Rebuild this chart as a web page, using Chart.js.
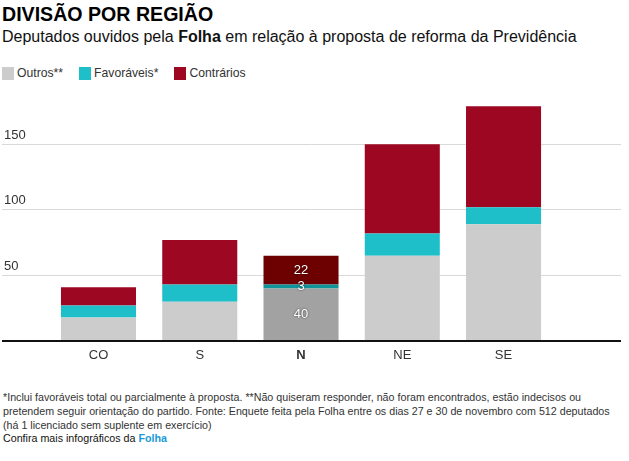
<!DOCTYPE html>
<html>
<head>
<meta charset="utf-8">
<script src="https://cdn.jsdelivr.net/npm/chart.js@4"></script>
<style>
  body { margin: 0; background: #fff; font-family: "Liberation Sans", Arial, sans-serif; color: #222; }
  #page { position: relative; width: 629px; height: 461px; overflow: hidden; }
  #title { position: absolute; left: 2px; top: 3px; font-size: 19.6px; font-weight: bold; color: #000; }
  #subtitle { position: absolute; left: 2px; top: 28px; font-size: 16px; color: #111; }
  #legend { position: absolute; left: 2px; top: 66px; font-size: 12.2px; color: #333; display: flex; }
  #legend span.item { display: flex; align-items: center; margin-right: 16px; }
  #legend span.box { width: 12px; height: 13px; margin-right: 3px; display: inline-block; }
  #wrap { position: absolute; left: 0; top: 90px; width: 629px; height: 280px; }
  #notes { position: absolute; left: 3px; top: 391px; width: 625px; font-size: 10.7px; line-height: 13.8px; color: #333; }
  #notes .more { color: #111; }
  #notes .more b { color: #1a9ad6; }
</style>
</head>
<body>
<div id="page">
  <div id="title">DIVISÃO POR REGIÃO</div>
  <div id="subtitle">Deputados ouvidos pela <b>Folha</b> em relação à proposta de reforma da Previdência</div>
  <div id="legend"></div>
  <div id="wrap"><canvas id="chart"></canvas></div>
  <div id="notes">
    *Inclui favoráveis total ou parcialmente à proposta. **Não quiseram responder, não foram encontrados, estão indecisos ou<br>
    pretendem seguir orientação do partido. Fonte: Enquete feita pela Folha entre os dias 27 e 30 de novembro com 512 deputados<br>
    (há 1 licenciado sem suplente em exercício)
    <div class="more">Confira mais infográficos da <b>Folha</b></div>
  </div>
</div>
<script>
// data
const regions = ["CO", "S", "N", "NE", "SE"];
const outros = [18, 30, 40, 65, 89];
const favoraveis = [9, 13, 3, 17, 13];
const contrarios = [14, 34, 22, 68, 77];
const yTicks = [50, 100, 150];
const highlight = 2; // N

const FONT = "'Liberation Sans', Arial, sans-serif";

const series = [
  { label: "Outros**", data: outros, color: "#cccccc", dark: "#a2a2a2" },
  { label: "Favoráveis*", data: favoraveis, color: "#1fbfc9", dark: "#0e9499" },
  { label: "Contrários", data: contrarios, color: "#9d0722", dark: "#6d0000" },
];

const ctx = document.querySelector("#chart").getContext("2d");

// white numbers on the highlighted bar
const barLabels = {
  id: "barLabels",
  afterDatasetsDraw(chart) {
    const c = chart.ctx;
    c.save();
    c.font = "13px " + FONT;
    c.textAlign = "center";
    c.textBaseline = "middle";
    c.fillStyle = "#fff";
    c.shadowColor = "rgba(0,0,0,0.7)";
    c.shadowBlur = 2;
    chart.data.datasets.forEach((ds, i) => {
      const el = chart.getDatasetMeta(i).data[highlight];
      const v = ds.data[highlight].y;
      c.fillText(String(v), el.x, (el.y + el.base) / 2);
    });
    c.restore();
  },
};

const chart = new Chart(ctx, {
  type: "bar",
  data: {
    datasets: series.map((s) => ({
      label: s.label,
      data: s.data.map((v, i) => ({ x: i, y: v })),
      backgroundColor: s.data.map((v, i) => (i === highlight ? s.dark : s.color)),
      borderWidth: 0,
      categoryPercentage: 1,
      barPercentage: 0.741,
    })),
  },
  options: {
    responsive: true,
    maintainAspectRatio: false,
    animation: false,
    layout: { padding: { left: 2, right: 8, top: 15, bottom: 6 } },
    plugins: {
      legend: { display: false },
      tooltip: { enabled: false },
    },
    scales: {
      x: {
        type: "linear",
        stacked: true,
        offset: false,
        min: -0.953,
        max: 5.16,
        grid: { display: false, drawTicks: false },
        border: { display: false },
        afterFit: (axis) => { axis.height = 23; },
        ticks: {
          stepSize: 1,
          includeBounds: false,
          autoSkip: false,
          maxRotation: 0,
          padding: 7,
          color: "#333",
          font: (c) => ({
            family: FONT,
            size: 13,
            weight: c.tick && c.tick.value === highlight ? "bold" : "normal",
          }),
          callback: (v) => (Number.isInteger(v) && regions[v] ? regions[v] : ""),
        },
      },
      y: {
        stacked: true,
        min: 0,
        max: 180,
        border: { display: false },
        afterFit: (axis) => { axis.width = 0; },
        grid: {
          drawTicks: false,
          color: (c) => (c.tick && c.tick.value === 0 ? "#111" : "#d9d9d9"),
          lineWidth: (c) => (c.tick && c.tick.value === 0 ? 2 : 1),
        },
        ticks: {
          stepSize: 50,
          includeBounds: false,
          mirror: true,
          padding: 2,
          labelOffset: -9,
          color: "#333",
          font: { family: FONT, size: 13 },
          callback: (v) => (yTicks.includes(v) ? String(v) : ""),
        },
      },
    },
  },
  plugins: [barLabels],
});

// legend built from the chart's datasets
const legend = document.querySelector("#legend");
chart.data.datasets.forEach((ds, i) => {
  const item = document.createElement("span");
  item.className = "item";
  const box = document.createElement("span");
  box.className = "box";
  box.style.background = series[i].color;
  item.appendChild(box);
  item.appendChild(document.createTextNode(ds.label));
  legend.appendChild(item);
});
</script>
</body>
</html>
